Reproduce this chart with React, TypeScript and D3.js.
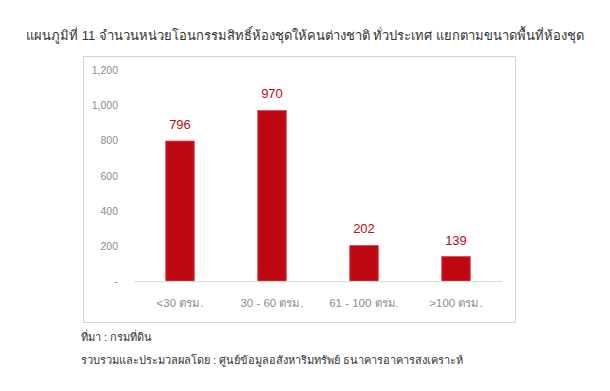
import React, { useEffect, useRef } from "react";
import * as d3 from "d3";

const categories = ["<30 ตรม.", "30 - 60 ตรม.", "61 - 100 ตรม.", ">100 ตรม."];
const values = [796, 970, 202, 139];
const yTicks = [0, 200, 400, 600, 800, 1000, 1200];

const title = "แผนภูมิที่ 11 จำนวนหน่วยโอนกรรมสิทธิ์ห้องชุดให้คนต่างชาติ ทั่วประเทศ แยกตามขนาดพื้นที่ห้องชุด";
const source1 = "ที่มา : กรมที่ดิน";
const source2 = "รวบรวมและประมวลผลโดย : ศูนย์ข้อมูลอสังหาริมทรัพย์ ธนาคารอาคารสงเคราะห์";

const W = 610;
const H = 391;
const FONT = "'Liberation Sans', 'Noto Sans', 'DejaVu Sans', sans-serif";

export default function App() {
  const ref = useRef<SVGSVGElement>(null);

  useEffect(() => {
    const svg = d3.select(ref.current);
    svg.selectAll("*").remove();

    const x = d3.scaleBand().domain(categories).range([134, 502]).paddingInner(0.69).paddingOuter(0.345);
    const y = d3.scaleLinear().domain([0, 1200]).range([281, 70]);

    svg.append("rect").attr("width", W).attr("height", H).attr("fill", "#fff");

    svg.append("text")
      .attr("x", 305).attr("y", 40)
      .attr("text-anchor", "middle")
      .attr("font-family", FONT).attr("font-size", 13).attr("fill", "#333")
      .text(title);

    // chart frame
    svg.append("rect")
      .attr("x", 83.5).attr("y", 56.5).attr("width", 432).attr("height", 266)
      .attr("fill", "none").attr("stroke", "#d4d4d4");

    // y axis labels
    svg.append("g").selectAll("text").data(yTicks).join("text")
      .attr("x", 118).attr("y", (d) => y(d) + 4)
      .attr("text-anchor", "end")
      .attr("font-family", FONT).attr("font-size", 10.5).attr("fill", "#8c8c8c")
      .text((d) => (d === 0 ? "-" : d3.format(",")(d)));

    // bars
    svg.append("g").selectAll("rect").data(values).join("rect")
      .attr("x", (d, i) => x(categories[i])!)
      .attr("y", (d) => y(d))
      .attr("width", x.bandwidth())
      .attr("height", (d) => y(0) - y(d))
      .attr("fill", "#c00812")
      .attr("stroke", "#d84a50").attr("stroke-width", 0.8);

    // baseline
    svg.append("line")
      .attr("x1", 134).attr("x2", 502).attr("y1", y(0) + 0.5).attr("y2", y(0) + 0.5)
      .attr("stroke", "#d9d9d9");

    // value labels
    svg.append("g").selectAll("text").data(values).join("text")
      .attr("x", (d, i) => x(categories[i])! + x.bandwidth() / 2)
      .attr("y", (d) => y(d) - 12)
      .attr("text-anchor", "middle")
      .attr("font-family", FONT).attr("font-size", 13).attr("fill", "#c00812")
      .text((d) => d);

    // category labels
    svg.append("g").selectAll("text").data(categories).join("text")
      .attr("x", (d) => x(d)! + x.bandwidth() / 2)
      .attr("y", 307)
      .attr("text-anchor", "middle")
      .attr("font-family", FONT).attr("font-size", 11.5).attr("fill", "#8c8c8c")
      .text((d) => d);

    svg.append("text")
      .attr("x", 81).attr("y", 341)
      .attr("font-family", FONT).attr("font-size", 11).attr("fill", "#333")
      .text(source1);
    svg.append("text")
      .attr("x", 81).attr("y", 364)
      .attr("font-family", FONT).attr("font-size", 11).attr("fill", "#333")
      .text(source2);
  }, []);

  return (
    <svg ref={ref} width={W} height={H} style={{ position: "absolute", left: 0, top: 0 }} />
  );
}
